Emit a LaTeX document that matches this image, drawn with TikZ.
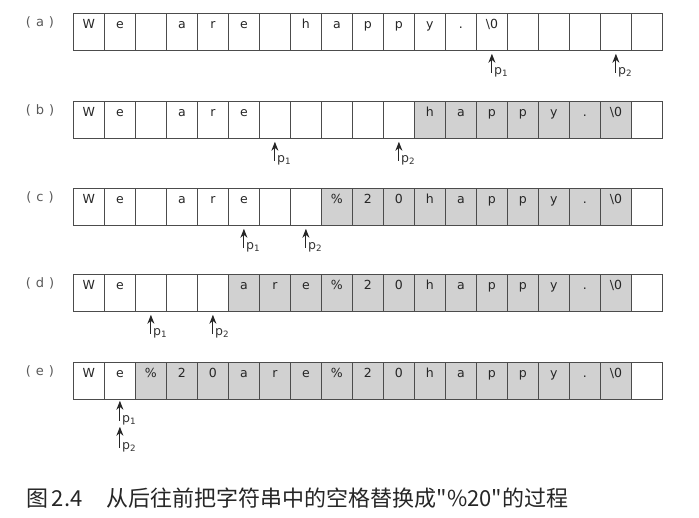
\documentclass[tikz,border=0pt]{standalone}
\usepackage{fontspec}
\setsansfont{DejaVu Sans}
\newfontfamily\cjk{Noto Sans CJK SC}
\usetikzlibrary{positioning}
\usetikzlibrary{arrows.meta}

\begin{document}
\begin{tikzpicture}[%
        x=1pt, y=-1pt,
        cell/.style={
            % the box:
            draw=black!70,
            line width=0.8pt,
            minimum width=31pt,
            minimum height=37pt,
            inner sep=0pt,
            anchor=north west,
            % the text, set high in the box:
            font=\sffamily\fontsize{12.5}{12.5}\selectfont,
            text=black!85,
            text height=9pt,
            text depth=16pt,
        },
        moved/.style={
            fill=black!18
        },
        rowlabel/.style={
            font=\sffamily\fontsize{13}{13}\selectfont,
            text=black!65
        },
        plabel/.style={
            font=\sffamily\fontsize{12.5}{12.5}\selectfont,
            text=black!80,
            anchor=south west,
            inner sep=0pt,
            xshift=2pt,
            yshift=-4pt
        },
        ptr/.style={
            -{Stealth[length=9pt, width=7pt]},
            shorten >=3pt,
            draw=black!85,
            line width=0.9pt
        }
    ]

    \useasboundingbox (0,0) rectangle (699,517);

    % the five states of the string
    \foreach \row/\chars/\ytop/\shadefrom in {
        a/{W,e,{},a,r,e,{},h,a,p,p,y,.,\textbackslash 0,{},{},{},{},{}}/13/99,
        b/{W,e,{},a,r,e,{},{},{},{},{},h,a,p,p,y,.,\textbackslash 0,{}}/101/11,
        c/{W,e,{},a,r,e,{},{},\%,2,0,h,a,p,p,y,.,\textbackslash 0,{}}/188/8,
        d/{W,e,{},{},{},a,r,e,\%,2,0,h,a,p,p,y,.,\textbackslash 0,{}}/274/5,
        e/{W,e,\%,2,0,a,r,e,\%,2,0,h,a,p,p,y,.,\textbackslash 0,{}}/362/2}{
        \node[rowlabel] (lab-\row) at (40, \ytop+9) {(\hspace{5pt}\row\hspace{5pt})};
        \foreach \ch [count=\i from 0] in \chars {
            \pgfmathtruncatemacro\isMoved{(\i>=\shadefrom)&&(\i<=17)}
            \ifnum\isMoved=1
                \node[cell, moved] (\row-\i) at (73+31*\i, \ytop) {\ch};
            \else
                \node[cell] (\row-\i) at (73+31*\i, \ytop) {\ch};
            \fi
        }
    }

    % pointers p1 and p2
    \foreach \row/\one/\two in {a/13/17, b/6/10, c/5/7, d/2/4} {
        \coordinate[below=22pt of \row-\one.south] (\row-t1);
        \coordinate[below=22pt of \row-\two.south] (\row-t2);
        \draw[ptr] (\row-t1) -- (\row-\one);
        \draw[ptr] (\row-t2) -- (\row-\two);
        \node[plabel] (\row-p1) at (\row-t1) {p\textsubscript{1}};
        \node[plabel] (\row-p2) at (\row-t2) {p\textsubscript{2}};
    }

    % both pointers meet in (e)
    \coordinate[below=21pt of e-1.south] (e-t1);
    \coordinate[below=48pt of e-1.south] (e-t2);
    \draw[ptr, shorten >=1pt] (e-t1) -- (e-1);
    \draw[ptr, shorten >=6pt] (e-t2) -- (e-t1);
    \node[plabel] (e-p1) at (e-t1) {p\textsubscript{1}};
    \node[plabel] (e-p2) at (e-t2) {p\textsubscript{2}};

    % caption
    \node[anchor=west, inner sep=0pt, font=\cjk\fontsize{22}{22}\selectfont, text=black!85] (caption) at (26, 498)
        {图\,2.4\hspace{1.1em}从后往前把字符串中的空格替换成"\%20"的过程};

\end{tikzpicture}
\end{document}
